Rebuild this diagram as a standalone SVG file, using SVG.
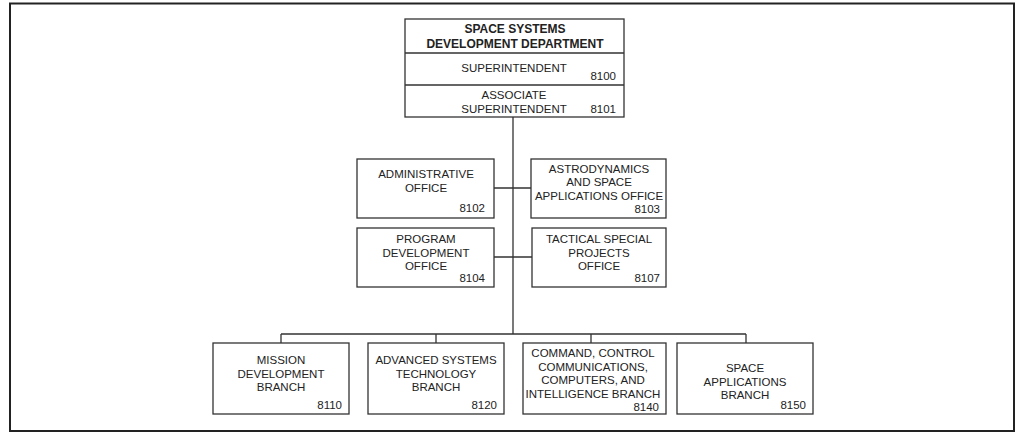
<svg xmlns="http://www.w3.org/2000/svg" width="1016" height="435" viewBox="0 0 1016 435">
<style>
.box{fill:#fff;stroke:#333;stroke-width:1.3}
.frame{fill:#fff;stroke:#222;stroke-width:2}
.ln{fill:none;stroke:#333;stroke-width:1.3}
text{font-family:"Liberation Sans",Arial,sans-serif;font-size:11.5px;fill:#222}
.c{text-anchor:middle}
.r{text-anchor:end}
.b{font-weight:bold;font-size:12px}
</style>
<rect class="frame" x="10" y="3.5" width="1004" height="427.5"/>
<g id="connectors">
<path class="ln" d="M513 117V334M494 188H531M494 257H532M281 334H746M281 334V343M436 334V343M591 334V343M746 334V343"/>
</g>
<g id="top">
<rect class="box" x="405" y="19" width="219" height="98"/>
<path class="ln" d="M405 53H624M405 85H624"/>
<text class="c b" x="515" y="33">SPACE SYSTEMS</text>
<text class="c b" x="515" y="48">DEVELOPMENT DEPARTMENT</text>
<text class="c" x="514" y="72">SUPERINTENDENT</text>
<text class="r" x="616" y="80">8100</text>
<text class="c" x="514" y="99">ASSOCIATE</text>
<text class="c" x="514" y="113">SUPERINTENDENT</text>
<text class="r" x="616" y="113">8101</text>
</g>
<g id="admin">
<rect class="box" x="357" y="159" width="137" height="59"/>
<text class="c" x="426" y="178">ADMINISTRATIVE</text>
<text class="c" x="426" y="192">OFFICE</text>
<text class="r" x="485" y="212">8102</text>
</g>
<g id="astro">
<rect class="box" x="531" y="159" width="135" height="59"/>
<text class="c" x="599" y="173">ASTRODYNAMICS</text>
<text class="c" x="599" y="186">AND SPACE</text>
<text class="c" x="599" y="200">APPLICATIONS OFFICE</text>
<text class="r" x="660" y="213">8103</text>
</g>
<g id="program">
<rect class="box" x="357" y="228" width="137" height="59"/>
<text class="c" x="426" y="243">PROGRAM</text>
<text class="c" x="426" y="257">DEVELOPMENT</text>
<text class="c" x="426" y="270">OFFICE</text>
<text class="r" x="485" y="282">8104</text>
</g>
<g id="tactical">
<rect class="box" x="532" y="228" width="134" height="59"/>
<text class="c" x="599" y="243">TACTICAL SPECIAL</text>
<text class="c" x="599" y="257">PROJECTS</text>
<text class="c" x="599" y="270">OFFICE</text>
<text class="r" x="660" y="282">8107</text>
</g>
<g id="mission">
<rect class="box" x="213" y="343" width="136" height="71"/>
<text class="c" x="281" y="364">MISSION</text>
<text class="c" x="281" y="378">DEVELOPMENT</text>
<text class="c" x="281" y="391">BRANCH</text>
<text class="r" x="342" y="409">8110</text>
</g>
<g id="advanced">
<rect class="box" x="368" y="343" width="136" height="71"/>
<text class="c" x="436" y="364">ADVANCED SYSTEMS</text>
<text class="c" x="436" y="378">TECHNOLOGY</text>
<text class="c" x="436" y="391">BRANCH</text>
<text class="r" x="497" y="409">8120</text>
</g>
<g id="command">
<rect class="box" x="523" y="343" width="143" height="71"/>
<text class="c" x="593" y="357">COMMAND, CONTROL</text>
<text class="c" x="593" y="371">COMMUNICATIONS,</text>
<text class="c" x="593" y="384">COMPUTERS, AND</text>
<text class="c" x="593" y="398">INTELLIGENCE BRANCH</text>
<text class="r" x="659" y="411">8140</text>
</g>
<g id="spaceapp">
<rect class="box" x="677" y="343" width="136" height="71"/>
<text class="c" x="745" y="372">SPACE</text>
<text class="c" x="745" y="386">APPLICATIONS</text>
<text class="c" x="745" y="399">BRANCH</text>
<text class="r" x="806" y="409">8150</text>
</g>
</svg>
